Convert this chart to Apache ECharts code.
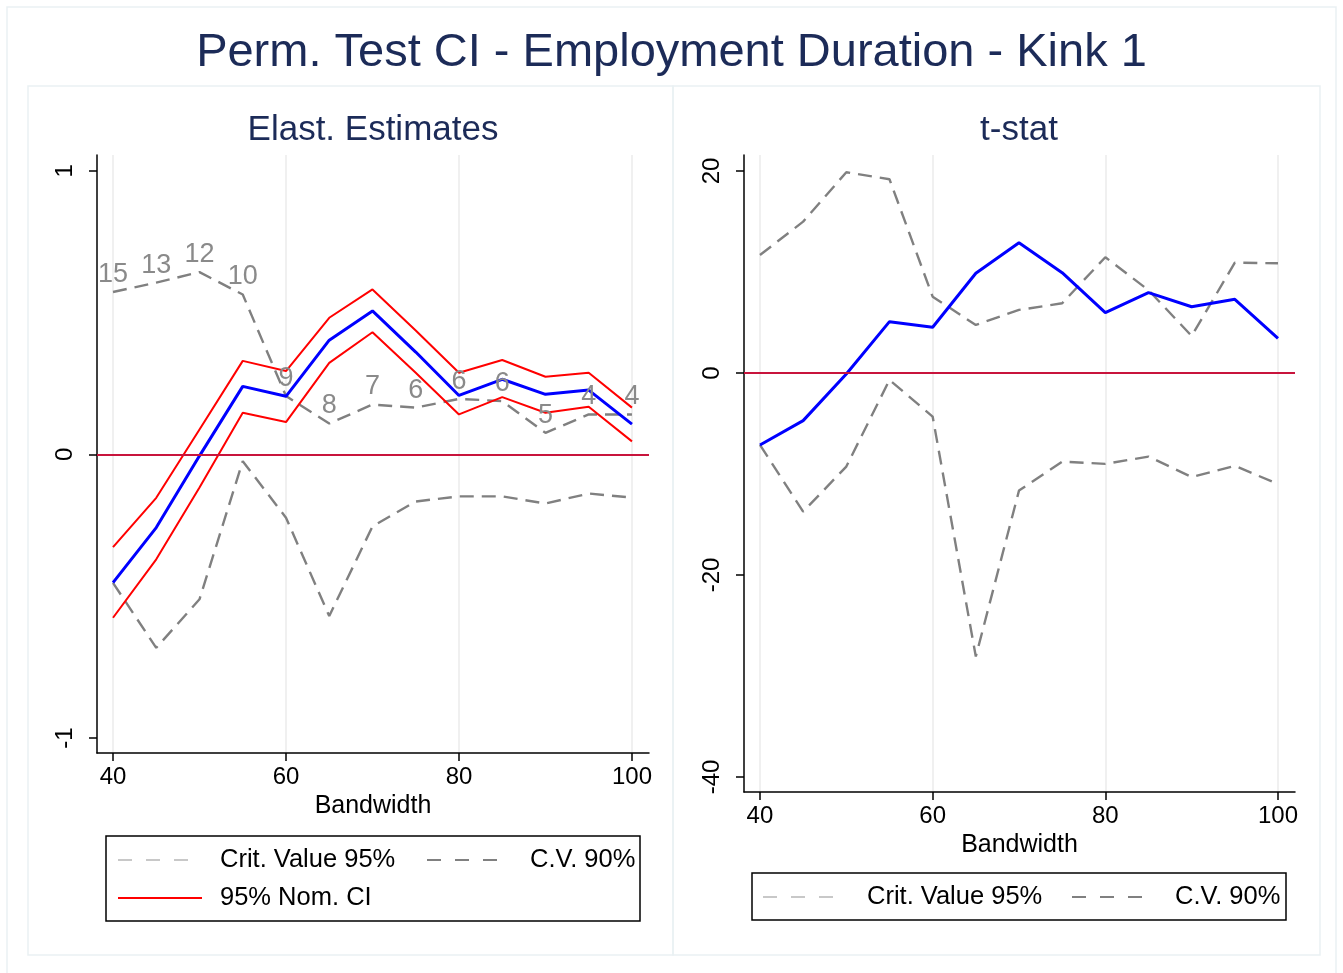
<!DOCTYPE html>
<html>
<head>
<meta charset="utf-8">
<script src="https://cdn.jsdelivr.net/npm/echarts@6/dist/echarts.min.js"></script>
<style>
  html, body { margin: 0; padding: 0; background: #fff; }
  #chart { width: 1343px; height: 973px; }
</style>
</head>
<body>
<div id="chart"></div>
<script>
// bandwidths (x axis)
var bandwidth = [40, 45, 50, 55, 60, 65, 70, 75, 80, 85, 90, 95, 100];

// left panel: elasticity estimates
var elastEst   = [-0.452, -0.258, -0.005, 0.240, 0.205, 0.403, 0.506, 0.361, 0.208, 0.265, 0.212, 0.227, 0.107];
var ciUpper    = [-0.327, -0.153, 0.088, 0.330, 0.294, 0.482, 0.582, 0.437, 0.288, 0.333, 0.274, 0.288, 0.165];
var ciLower    = [-0.576, -0.370, -0.117, 0.147, 0.114, 0.323, 0.431, 0.288, 0.141, 0.202, 0.147, 0.168, 0.046];
var cv90UpElast  = [0.573, 0.606, 0.643, 0.564, 0.206, 0.109, 0.176, 0.165, 0.196, 0.188, 0.076, 0.141, 0.141];
var cv90LowElast = [-0.453, -0.682, -0.511, -0.024, -0.223, -0.570, -0.254, -0.166, -0.148, -0.148, -0.173, -0.138, -0.152];
var obsLabels  = [15, 13, 12, 10, 9, 8, 7, 6, 6, 6, 5, 4, 4];
var cv95Elast  = [];   // not visible in the picture

// right panel: t-stat
var tStat      = [-7.13, -4.72, -0.1, 5.08, 4.52, 9.87, 12.9, 9.93, 5.97, 7.95, 6.56, 7.29, 3.43];
var cv90UpT    = [11.68, 14.98, 19.87, 19.18, 7.55, 4.75, 6.24, 6.9, 11.46, 8.2, 3.66, 10.92, 10.86];
var cv90LowT   = [-7.13, -13.73, -9.27, -0.69, -4.32, -28.08, -11.65, -8.78, -9.0, -8.28, -10.3, -9.2, -11.0];
var cv95T      = [];

// tick labels
var xTicks = [40, 60, 80, 100];
var yTicksElast = [-1, 0, 1];
var yTicksT = [-40, -20, 0, 20];

var FONT = '"Liberation Sans", Arial, Helvetica, sans-serif';
var DASH = [14, 8];

function pairs(vals) {
	var out = [];
	for (var i = 0; i < vals.length; i++) {
		out.push([bandwidth[i], vals[i]]);
	}
	return out;
}

function line(name, vals, idx, color, width, dashed) {
	return {
		name: name,
		type: 'line',
		xAxisIndex: idx,
		yAxisIndex: idx,
		data: pairs(vals),
		symbol: 'none',
		showSymbol: false,
		silent: true,
		lineStyle: { color: color, width: width, type: dashed ? DASH : 'solid' },
		itemStyle: { color: color }
	};
}

function xAxisDef(idx) {
	return {
		type: 'value',
		gridIndex: idx,
		min: 38.15,
		max: 101.97,
		name: 'Bandwidth',
		nameLocation: 'middle',
		nameGap: 40,
		nameTextStyle: { fontFamily: FONT, fontSize: 25, color: '#000' },
		axisLine: { show: true, onZero: false, lineStyle: { color: '#000', width: 1.5 } },
		axisTick: { show: true, length: 8, customValues: xTicks, lineStyle: { color: '#000', width: 1.5 } },
		axisLabel: { customValues: xTicks, margin: 12, fontFamily: FONT, fontSize: 24, color: '#000' },
		splitLine: { show: true, lineStyle: { color: '#ebebeb', width: 1.5 } }
	};
}

function yAxisDef(idx, min, max, ticks) {
	return {
		type: 'value',
		gridIndex: idx,
		min: min,
		max: max,
		axisLine: { show: true, onZero: false, lineStyle: { color: '#000', width: 1.5 } },
		axisTick: { show: true, length: 8, customValues: ticks, lineStyle: { color: '#000', width: 1.5 } },
		axisLabel: { customValues: ticks, rotate: 90, margin: 20, fontFamily: FONT, fontSize: 24, color: '#000' },
		splitLine: { show: false }
	};
}

function legendItem(name, left, top, dashType, width, gap) {
	return {
		data: [name],
		left: left,
		top: top,
		padding: 0,
		itemWidth: width,
		itemHeight: 14,
		selectedMode: false,
		itemStyle: { opacity: 0 },
		lineStyle: { type: dashType, width: 2 },
		textStyle: { fontFamily: FONT, fontSize: 25.5, color: '#000', padding: [0, 0, 0, gap] }
	};
}

var zeroLine = {
	silent: true,
	symbol: 'none',
	label: { show: false },
	lineStyle: { color: '#c8143c', width: 2, type: 'solid' },
	data: [{ yAxis: 0 }]
};

var chart = echarts.init(document.getElementById('chart'), null, { renderer: 'canvas' });

var cv90UpperLeft = line('C.V. 90%', cv90UpElast, 0, '#808080', 2.4, true);
cv90UpperLeft.symbol = 'circle';
cv90UpperLeft.symbolSize = 0;
cv90UpperLeft.showSymbol = true;
cv90UpperLeft.label = {
	show: true,
	position: 'top',
	distance: 4,
	fontFamily: FONT,
	fontSize: 27,
	color: '#8a8a8a',
	formatter: function (p) { return obsLabels[p.dataIndex]; }
};

var blueLeft = line('Estimate', elastEst, 0, '#0000ff', 3, false);
blueLeft.markLine = zeroLine;
var blueRight = line('t-stat', tStat, 1, '#0000ff', 3, false);
blueRight.markLine = zeroLine;

chart.setOption({
	animation: false,
	backgroundColor: '#ffffff',
	title: [{
		text: 'Perm. Test CI - Employment Duration - Kink 1',
		left: 'center',
		top: 25,
		textStyle: { fontFamily: FONT, fontSize: 47, fontWeight: 'normal', color: '#1c2b58' }
	}],
	graphic: [
		{ type: 'rect', shape: { x: 7, y: 7, width: 1329, height: 990 }, style: { fill: 'none', stroke: '#eaf1f3', lineWidth: 1.5 }, silent: true },
		{ type: 'rect', shape: { x: 28, y: 86, width: 645, height: 869 }, style: { fill: 'none', stroke: '#eaf1f3', lineWidth: 1.5 }, silent: true },
		{ type: 'rect', shape: { x: 673, y: 86, width: 647, height: 869 }, style: { fill: 'none', stroke: '#eaf1f3', lineWidth: 1.5 }, silent: true },
		{ type: 'text', x: 373, y: 130, style: { text: 'Elast. Estimates', font: '35px ' + FONT, fill: '#1c2b58', textAlign: 'center', textVerticalAlign: 'middle' }, silent: true },
		{ type: 'text', x: 1019, y: 130, style: { text: 't-stat', font: '35px ' + FONT, fill: '#1c2b58', textAlign: 'center', textVerticalAlign: 'middle' }, silent: true },
		{ type: 'rect', shape: { x: 106, y: 836, width: 534, height: 85 }, style: { fill: 'none', stroke: '#000', lineWidth: 1.5 }, silent: true },
		{ type: 'rect', shape: { x: 752, y: 873, width: 534, height: 47 }, style: { fill: 'none', stroke: '#000', lineWidth: 1.5 }, silent: true }
	],
	legend: [
		legendItem('Crit. Value 95%', 117, 847, [14, 14], 82, 15),
		legendItem('C.V. 90%', 426, 847, [14, 14], 78, 20),
		legendItem('95% Nom. CI', 117, 885, 'solid', 84, 13),
		legendItem('Crit. Value 95%', 762, 884, [14, 14], 80, 19),
		legendItem('C.V. 90%', 1071, 884, [14, 14], 78, 20)
	],
	grid: [
		{ left: 97, top: 155, width: 552, height: 598, containLabel: false },
		{ left: 744, top: 155, width: 551, height: 637, containLabel: false }
	],
	xAxis: [xAxisDef(0), xAxisDef(1)],
	yAxis: [
		yAxisDef(0, -1.053, 1.056, yTicksElast),
		yAxisDef(1, -41.49, 21.58, yTicksT)
	],
	series: [
		line('Crit. Value 95%', cv95Elast, 0, '#c8c8c8', 2.4, true),
		cv90UpperLeft,
		line('C.V. 90%', cv90LowElast, 0, '#808080', 2.4, true),
		line('95% Nom. CI', ciUpper, 0, '#ff0000', 2, false),
		line('95% Nom. CI', ciLower, 0, '#ff0000', 2, false),
		blueLeft,

		line('Crit. Value 95%', cv95T, 1, '#c8c8c8', 2.4, true),
		line('C.V. 90%', cv90UpT, 1, '#808080', 2.4, true),
		line('C.V. 90%', cv90LowT, 1, '#808080', 2.4, true),
		blueRight
	]
});
</script>
</body>
</html>
